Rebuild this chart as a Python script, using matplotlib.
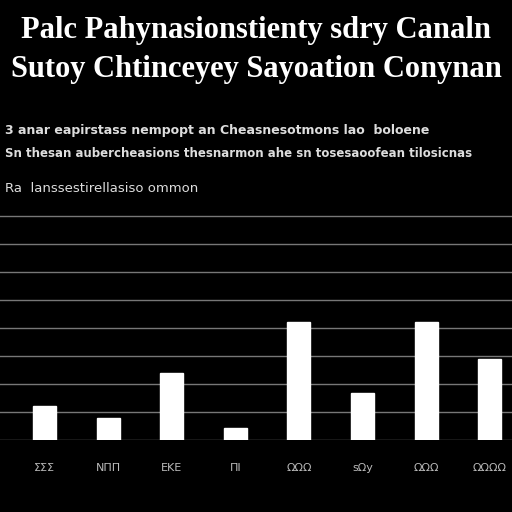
import matplotlib
matplotlib.use("Agg")
import matplotlib.pyplot as plt

categories = ["ΣΣΣ", "ΝΠΠ", "ΕΚΕ", "ΠΙ", "ΩΩΩ", "sΩy", "ΩΩΩ", "ΩΩΩΩ"]
values = [34, 22, 67, 12, 118, 47, 118, 81]

fig = plt.figure(figsize=(5.12, 5.12), dpi=100, facecolor="black")
ax = fig.add_axes([0.0, 0.14, 1.0, 0.49], facecolor="black")
x = range(len(categories))
ax.bar(x, values, width=0.36, color="white", edgecolor="white")
ax.set_xlim(-0.7, 7.35)
ax.set_ylim(0, 250)
ax.set_yticks(range(0, 251, 28))
ax.yaxis.grid(True, color="#777777", linewidth=1)
ax.set_axisbelow(True)
ax.tick_params(left=False, labelleft=False, bottom=False, labelbottom=False)
for s in ax.spines.values():
    s.set_visible(False)
for i, c in enumerate(categories):
    ax.text(i, -28, c, color="#bbbbbb", ha="center", va="center", fontsize=8)

fig.text(0.5, 0.94, "Palc Pahynasionstienty sdry Canaln", color="white",
         ha="center", va="center", fontsize=22, fontweight="bold", family="Liberation Serif")
fig.text(0.5, 0.865, "Sutoy Chtinceyey Sayoation Conynan", color="white",
         ha="center", va="center", fontsize=22, fontweight="bold", family="Liberation Serif")
fig.text(0.01, 0.745, "3 anar eapirstass nempopt an Cheasnesotmons lao  boloene", color="#dddddd",
         ha="left", va="center", fontsize=9, fontweight="bold")
fig.text(0.01, 0.70, "Sn thesan aubercheasions thesnarmon ahe sn tosesaoofean tilosicnas", color="#dddddd",
         ha="left", va="center", fontsize=8.5, fontweight="bold")
fig.text(0.01, 0.632, "Ra  lanssestirellasiso ommon", color="#dddddd",
         ha="left", va="center", fontsize=9.5)
fig.savefig("out.png", dpi=100, facecolor="black")
